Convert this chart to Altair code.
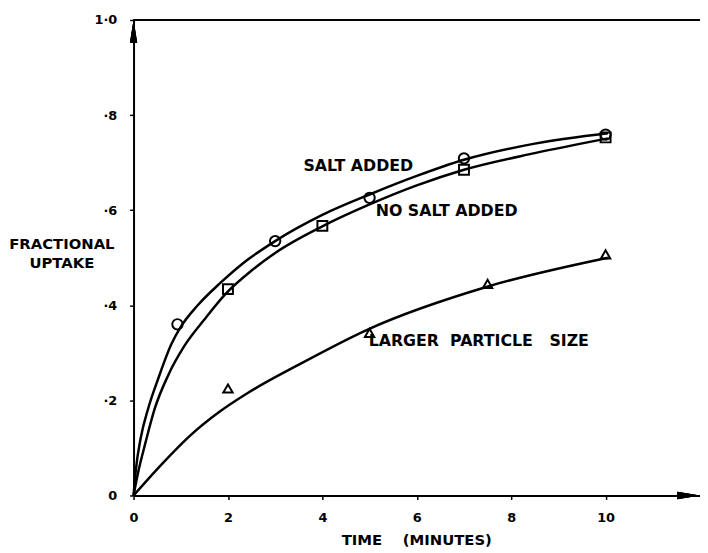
import altair as alt
import pandas as pd

# ---- data ----
series_names = ["SALT ADDED", "NO SALT ADDED", "LARGER PARTICLE SIZE"]

salt_pts_x = [0.93, 3, 5, 7, 10]
salt_pts_y = [0.36, 0.535, 0.626, 0.709, 0.759]
nosalt_pts_x = [2, 4, 7, 10]
nosalt_pts_y = [0.434, 0.567, 0.685, 0.753]
large_pts_x = [2, 5, 7.5, 10]
large_pts_y = [0.225, 0.342, 0.445, 0.507]

salt_curve_x = [0, 0.05, 0.15, 0.31, 0.52, 0.8, 1.01, 1.36, 1.85, 2.3, 3.0, 4.0, 5.0, 6.0, 7.0, 8.5, 10.05]
salt_curve_y = [0, 0.055, 0.12, 0.183, 0.245, 0.318, 0.356, 0.4, 0.448, 0.487, 0.535, 0.59, 0.633, 0.672, 0.706, 0.74, 0.762]
nosalt_curve_x = [0, 0.1, 0.25, 0.45, 0.73, 1.08, 1.5, 1.95, 2.5, 3.0, 4.0, 5.0, 6.0, 7.0, 8.5, 10.05]
nosalt_curve_y = [0, 0.05, 0.11, 0.183, 0.252, 0.315, 0.37, 0.424, 0.473, 0.51, 0.566, 0.612, 0.652, 0.685, 0.72, 0.751]
large_curve_x = [0, 0.59, 1.21, 1.82, 2.41, 3.46, 4.96, 7.49, 10.05]
large_curve_y = [0, 0.065, 0.127, 0.176, 0.215, 0.273, 0.349, 0.439, 0.5]

x_ticks = [0, 2, 4, 6, 8, 10]
y_ticks = [0, 0.2, 0.4, 0.6, 0.8, 1.0]
y_tick_labels = ["0", "·2", "·4", "·6", "·8", "1·0"]

NB = "\u00a0"
ann_text = ["SALT ADDED", "NO SALT ADDED",
            "LARGER" + NB * 2 + "PARTICLE" + NB * 3 + "SIZE"]
ann_x = [3.6, 5.13, 4.98]
ann_y = [0.692, 0.599, 0.324]
x_title = "TIME" + NB * 4 + "(MINUTES)"

# ---- tables ----
curves = pd.concat([
    pd.DataFrame({"t": salt_curve_x, "u": salt_curve_y, "s": series_names[0]}),
    pd.DataFrame({"t": nosalt_curve_x, "u": nosalt_curve_y, "s": series_names[1]}),
    pd.DataFrame({"t": large_curve_x, "u": large_curve_y, "s": series_names[2]}),
])
points = pd.concat([
    pd.DataFrame({"t": salt_pts_x, "u": salt_pts_y, "s": series_names[0]}),
    pd.DataFrame({"t": nosalt_pts_x, "u": nosalt_pts_y, "s": series_names[1]}),
    pd.DataFrame({"t": large_pts_x, "u": large_pts_y, "s": series_names[2]}),
])
ann = pd.DataFrame({"label": ann_text, "t": ann_x, "u": ann_y})

FONT = "DejaVu Sans"
W, H = 573, 481

label_expr = " : ".join(
    f"datum.value == {v} ? '{l}'" for v, l in zip(y_ticks, y_tick_labels)
) + " : ''"

xs = alt.X("t:Q", scale=alt.Scale(domain=[0, 12], nice=False),
           axis=alt.Axis(values=x_ticks, title=x_title, grid=False,
                         domainColor="black", domainWidth=2, tickColor="black",
                         tickSize=4, tickWidth=1.5, labelPadding=12,
                         labelFont=FONT, labelFontSize=13, labelFontWeight="bold",
                         labelColor="black", titleFont=FONT, titleFontSize=15,
                         titleFontWeight="bold", titleColor="black", titlePadding=9,
                         titleX=286, titleAnchor="middle", labelFlush=False))
ys = alt.Y("u:Q", scale=alt.Scale(domain=[0, 1], nice=False),
           axis=alt.Axis(values=y_ticks, labelExpr=label_expr, grid=False,
                         title=["FRACTIONAL", "UPTAKE"], titleAngle=0,
                         titleX=-73, titleY=226, titleAlign="center",
                         titleBaseline="middle", titleLineHeight=19,
                         domainColor="black", domainWidth=2, tickColor="black",
                         tickSize=4, tickWidth=1.5, labelPadding=13,
                         labelFont=FONT, labelFontSize=13, labelFontWeight="bold",
                         labelColor="black", titleFont=FONT, titleFontSize=15,
                         titleFontWeight="bold", titleColor="black", labelFlush=False))

lines = alt.Chart(curves).mark_line(color="black", strokeWidth=2.5,
                                    interpolate="monotone").encode(
    x=xs, y=ys, detail="s:N")

pts = alt.Chart(points).mark_point(color="black", strokeWidth=2, filled=False,
                                   opacity=1).encode(
    x="t:Q", y="u:Q",
    shape=alt.Shape("s:N", scale=alt.Scale(domain=series_names,
                                            range=["circle", "square", "triangle-up"]),
                    legend=None),
    size=alt.Size("s:N", scale=alt.Scale(domain=series_names, range=[110, 90, 110]),
                  legend=None))

texts = alt.Chart(ann).mark_text(align="left", baseline="middle", font=FONT,
                                 fontSize=16, fontWeight="bold", color="black").encode(
    x="t:Q", y="u:Q", text="label:N")

top_rule = alt.Chart(ann).mark_rule(color="black", strokeWidth=1.5).encode(
    x=alt.value(0), x2=alt.value(W), y=alt.value(0))

up_arrow = alt.Chart(ann).mark_point(
    shape="M0,-1L0.32,1L-0.32,1Z", filled=True, color="black", opacity=1,
    size=530).encode(x=alt.value(0), y=alt.value(11.5))
right_arrow = alt.Chart(ann).mark_point(
    shape="M1,0L-1,-0.32L-1,0.32Z", filled=True, color="black", opacity=1,
    size=530).encode(x=alt.value(W - 11.5), y=alt.value(H))

chart = alt.layer(lines, pts, texts, top_rule, up_arrow, right_arrow).properties(
    width=W, height=H,
    padding={"left": 127, "top": 9, "right": 0, "bottom": 50},
    autosize=alt.AutoSizeParams(type="none"),
).configure_view(stroke=None).configure(background="white")

chart.save("out.html", embed_options={"renderer": "svg", "actions": False})
